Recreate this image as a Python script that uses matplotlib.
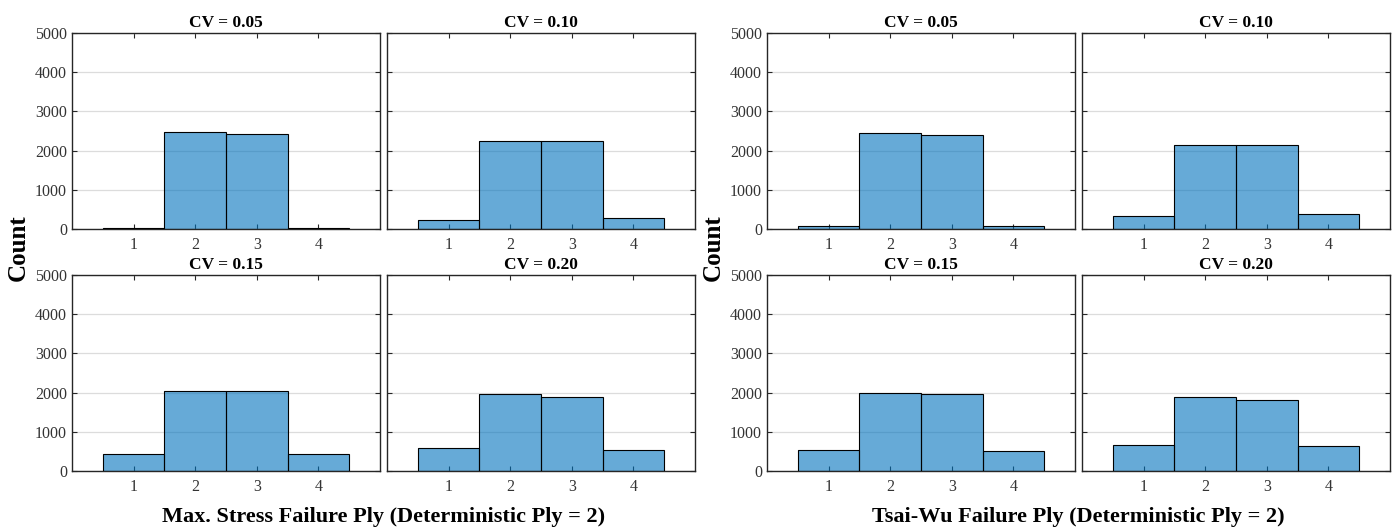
import matplotlib.pyplot as plt
import numpy as np

plt.rcParams['font.family'] = ['Liberation Serif', 'DejaVu Serif']

plies = [1, 2, 3, 4]
cv_titles = ['CV = 0.05', 'CV = 0.10', 'CV = 0.15', 'CV = 0.20']

# counts per failure ply, one list per CV level
maxstress_counts = [
    [25, 2475, 2432, 25],
    [229, 2254, 2237, 271],
    [441, 2034, 2051, 441],
    [585, 1975, 1890, 542],
]
tsaiwu_counts = [
    [68, 2441, 2390, 68],
    [330, 2144, 2153, 373],
    [534, 1983, 1966, 500],
    [661, 1890, 1814, 627],
]
xlabels = ['Max. Stress Failure Ply (Deterministic Ply = 2)',
           'Tsai-Wu Failure Ply (Deterministic Ply = 2)']

W, H = 1397, 531
fig = plt.figure(figsize=(W / 100, H / 100), dpi=100)

ax_color = '#262626'
bar_color = '#0072BD'

def px_axes(x0, y0, x1, y1):
    return fig.add_axes([x0 / W, 1 - y1 / H, (x1 - x0) / W, (y1 - y0) / H])

groups = [(72, maxstress_counts), (767, tsaiwu_counts)]
rows = [(33, 229), (275, 471)]
col_step = 315
panel_w = 308

for g, (gx, data) in enumerate(groups):
    for k in range(4):
        r, c = divmod(k, 2)
        x0 = gx + c * col_step
        y0, y1 = rows[r]
        ax = px_axes(x0, y0, x0 + panel_w, y1)
        ax.set_axisbelow(True)
        ax.yaxis.grid(True, color='#dcdcdc', lw=0.9)
        ax.bar(plies, data[k], width=1.0, color=bar_color, alpha=0.6,
               edgecolor='none', zorder=2)
        ax.bar(plies, data[k], width=1.0, fill=False, edgecolor='black',
               lw=0.8, zorder=3)
        ax.set_xlim(0, 5)
        ax.set_ylim(0, 5000)
        ax.set_xticks(plies)
        ax.set_yticks(np.arange(0, 5001, 1000))
        ax.tick_params(direction='in', top=True, right=True, length=3.5,
                       width=0.8, colors=ax_color, labelsize=11.5,
                       labelcolor='#333333')
        ax.tick_params(axis='x', pad=6)
        if c == 1:
            ax.set_yticklabels([])
        for s in ax.spines.values():
            s.set_color(ax_color)
            s.set_linewidth(1.0)
        ax.set_title(cv_titles[k], fontsize=12.5, fontweight='bold', pad=4)

    # shared labels for the group
    fig.text((gx - 54) / W, 1 - 248 / H, 'Count', rotation=90, ha='center',
             va='center', fontsize=18, fontweight='bold')
    cx = gx + (col_step + panel_w) / 2
    fig.text(cx / W, 1 - 517 / H, xlabels[g], ha='center', va='center',
             fontsize=16, fontweight='bold')

fig.savefig('out.png', dpi=100)
